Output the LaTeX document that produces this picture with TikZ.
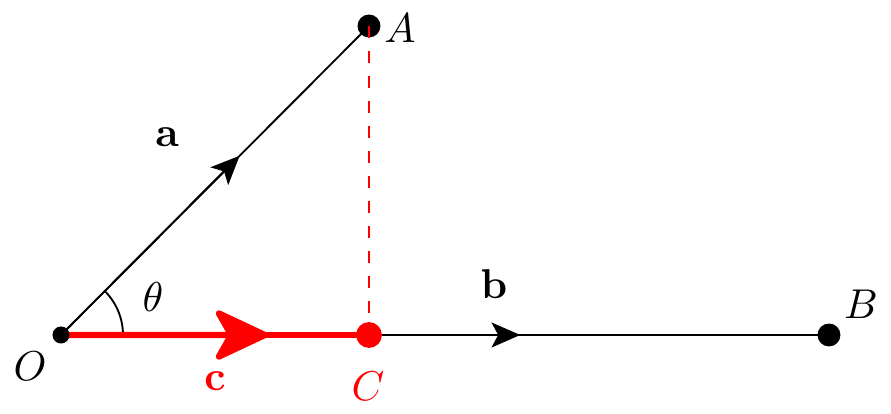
\documentclass[tikz,border=0pt]{standalone}
\usetikzlibrary{arrows.meta,calc}
\begin{document}
\begin{tikzpicture}[x=0.24pt,y=-0.24pt,
  vec/.style={line width=0.45pt,black},
  redvec/.style={line width=1.5pt,red},
  blackhead/.style={line width=0.45pt,-{Stealth[length=6.9pt,width=6pt,inset=1.6pt]}},
  redhead/.style={line width=1.5pt,red,-{Stealth[length=14.5pt,width=13.5pt,inset=3.8pt,round]}},
  proj/.style={red,line width=0.4pt,dash pattern=on 3pt off 3pt},
  lab/.style={inner sep=0pt}]
\useasboundingbox (0,0) rectangle (891,414);
\coordinate (O) at (61,335);
\coordinate (A) at (369,26);
\coordinate (B) at (829,335);
\coordinate (C) at (369,335);
% vectors
\draw[vec] (O) -- (A);
\draw[vec] (O) -- (B);
\draw[blackhead] (O) -- ($(O)!0.58!(A)$);
\draw[blackhead] (O) -- ($(O)!0.598!(B)$);
% angle
\draw[line width=0.45pt] ($(O)+(62,0)$) arc[start angle=0,end angle=45,radius=14.9pt];
% projection
\draw[redvec] (O) -- (C);
\draw[redhead] (O) -- ($(O)!0.672!(C)$);
% dots
\fill (O) circle[radius=2.05pt];
\fill (A) circle[radius=2.75pt];
\fill (B) circle[radius=2.75pt];
\fill[red] (C) circle[radius=3.1pt];
\draw[proj] (A) -- (C);
% labels
\node[lab] (lA) at (400,28) {$A$};
\node[lab] (lB) at (861,304) {$B$};
\node[lab] (lO) at (30,366) {$O$};
\node[lab,red] (lC) at (368,386) {$C$};
\node[lab] (la) at (167,137) {$\mathbf{a}$};
\node[lab] (lb) at (494,284) {$\mathbf{b}$};
\node[lab,red] (lc) at (215,381) {$\mathbf{c}$};
\node[lab] (lt) at (153,297) {$\theta$};
\end{tikzpicture}
\end{document}
